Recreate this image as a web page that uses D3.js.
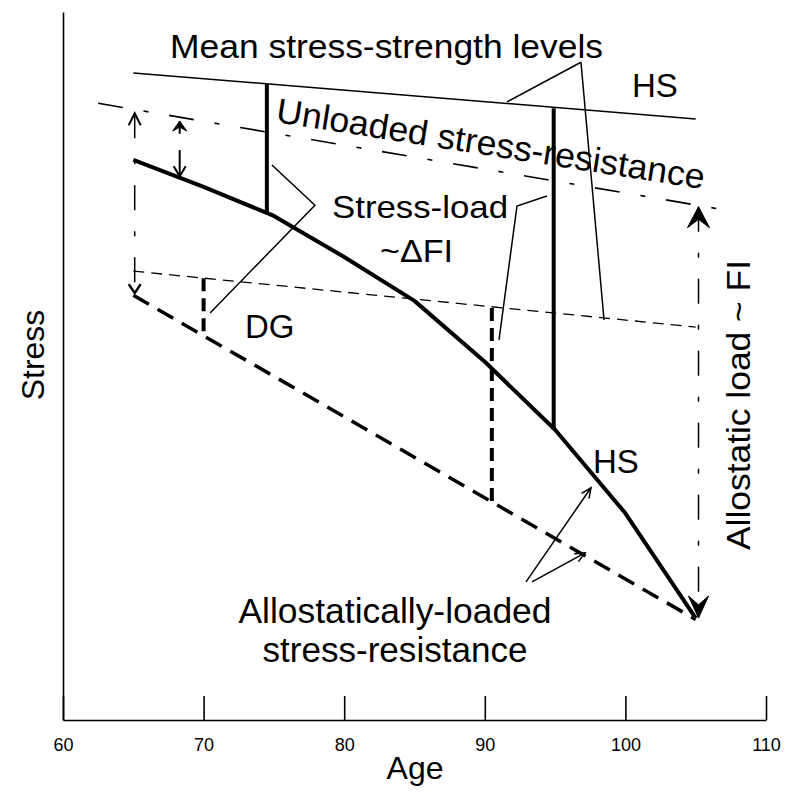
<!DOCTYPE html>
<html>
<head>
<meta charset="utf-8">
<script src="https://cdn.jsdelivr.net/npm/d3@7"></script>
<style>
  html, body { margin: 0; padding: 0; background: #fff; }
  svg { display: block; font-family: "Liberation Sans", Arial, sans-serif; }
</style>
</head>
<body>
<svg id="chart" width="800" height="794"></svg>
<script>
// ---------------- data ----------------
const xTicks = [60, 70, 80, 90, 100, 110];

// healthy-state (actual) stress-resistance trajectory
const curveAges   = [65, 70, 75, 80, 85, 90, 95, 100, 105];
const curveStress = [79.1, 75.3, 71.2, 65.4, 59.2, 50.6, 41.0, 29.2, 14.4];

// mean stress-strength levels (upper, HS)
const meanTopAges   = [65, 105];
const meanTopStress = [91.4, 84.9];

// mean stress-strength levels (lower, DG)
const meanLowAges   = [65, 105];
const meanLowStress = [63.4, 55.5];

// unloaded stress-resistance
const unloadedAges   = [62.5, 107.8];
const unloadedStress = [87.1, 71.8];

// allostatically-loaded stress-resistance
const loadedAges   = [65, 105];
const loadedStress = [60.0, 14.2];

// stress-load bars (HS, solid)
const hsBarAges   = [74.5, 94.9];
const hsBarTop    = [89.8, 86.4];
const hsBarBottom = [71.5, 41.0];

// stress-load bars (DG, dashed)
const dgBarAges   = [70, 90.5];
const dgBarTop    = [62.4, 58.2];
const dgBarBottom = [54.4, 30.6];

// allostatic load arrow (age, from, to)
const alArrowAge = 105.2;
const alArrowStress = [72.5, 14.4];
// left double arrow
const leftArrowAge = 65.1;
const leftArrowStress = [85.7, 60.3];
// small arrows
const smallArrowAge = 68.3;
const smallUpStress = [82.8, 84.6];
const smallDownStress = [80.5, 76.8];

// leader lines [age, stress] polylines
const meanLeaderA = [[96.84, 92.9], [91.58, 87.3]];
const meanLeaderB = [[96.84, 92.9], [98.48, 56.5]];
const loadLeaderA = [[74.86, 78.4], [77.92, 72.7], [70.46, 57.5]];
const loadLeaderB = [[94.42, 74.0], [92.29, 72.6], [91.01, 53.7]];
const alloLeaderA = [[92.93, 19.5], [97.55, 32.8]];
const alloLeaderB = [[93.36, 19.5], [97.13, 23.6]];

// ---------------- drawing ----------------
const svg = d3.select("#chart");
const x = d3.scaleLinear().domain([60, 110]).range([63, 766]);
const y = d3.scaleLinear().domain([0, 100]).range([720, 12]);

const line = d3.line().x(d => x(d[0])).y(d => y(d[1])).curve(d3.curveLinear);
const zip = (a, b) => a.map((v, i) => [v, b[i]]);

// axes
const xAxis = d3.axisBottom(x).tickValues(xTicks).tickSizeInner(-24).tickSizeOuter(0).tickPadding(18);
const gx = svg.append("g").attr("transform", "translate(0,720)").call(xAxis);
gx.selectAll("path, line").attr("stroke", "#000").attr("stroke-width", 1.6);
gx.selectAll("text").attr("font-size", 18).attr("fill", "#000")
  .attr("font-family", "Liberation Sans, Arial, sans-serif");

const yAxis = d3.axisLeft(y).tickValues([]).tickSizeOuter(0);
const gy = svg.append("g").attr("transform", "translate(63,0)").call(yAxis);
gy.selectAll("path").attr("stroke", "#000").attr("stroke-width", 1.6);

// axis titles
svg.append("text").attr("x", 415).attr("y", 779).attr("text-anchor", "middle")
  .attr("font-size", 32).text("Age");
svg.append("text").attr("transform", "translate(44,355) rotate(-90)")
  .attr("text-anchor", "middle").attr("font-size", 32).text("Stress");

const g = svg.append("g").attr("fill", "none").attr("stroke", "#000");

// upper mean line
g.append("path").attr("d", line(zip(meanTopAges, meanTopStress))).attr("stroke-width", 1.5);
// lower mean line (thin dashed)
g.append("path").attr("d", line(zip(meanLowAges, meanLowStress)))
  .attr("stroke-width", 1.3).attr("stroke-dasharray", "11,7");
// unloaded stress-resistance (dash-dot)
g.append("path").attr("d", line(zip(unloadedAges, unloadedStress)))
  .attr("stroke-width", 1.6).attr("stroke-dasharray", "25,21,5,21");
// loaded stress-resistance (thick dashed)
g.append("path").attr("d", line(zip(loadedAges, loadedStress)))
  .attr("stroke-width", 3.5).attr("stroke-dasharray", "18,10");
// main trajectory
g.append("path").attr("d", line(zip(curveAges, curveStress)))
  .attr("stroke-width", 4).attr("stroke-linejoin", "round");

// stress-load bars
hsBarAges.forEach((a, i) => {
  g.append("path").attr("d", line([[a, hsBarTop[i]], [a, hsBarBottom[i]]])).attr("stroke-width", 4);
});
dgBarAges.forEach((a, i) => {
  g.append("path").attr("d", line([[a, dgBarTop[i]], [a, dgBarBottom[i]]]))
    .attr("stroke-width", 4).attr("stroke-dasharray", "13,7");
});

// arrowhead helper
function head(tail, tip, o) {
  const tx = x(tip[0]), ty = y(tip[1]);
  const dx = tx - x(tail[0]), dy = ty - y(tail[1]);
  const L = Math.hypot(dx, dy) || 1;
  const ux = dx / L, uy = dy / L, px = -uy, py = ux;
  const b1 = [tx - o.len * ux + o.half * px, ty - o.len * uy + o.half * py];
  const b2 = [tx - o.len * ux - o.half * px, ty - o.len * uy - o.half * py];
  if (o.filled) {
    const n = [tx - o.len * o.notch * ux, ty - o.len * o.notch * uy];
    svg.append("path").attr("d", `M${tx},${ty}L${b1}L${n}L${b2}Z`)
      .attr("fill", "#000").attr("stroke", "#000").attr("stroke-width", 1).attr("stroke-linejoin", "miter");
  } else {
    svg.append("path").attr("d", `M${b1}L${tx},${ty}L${b2}`)
      .attr("fill", "none").attr("stroke", "#000").attr("stroke-width", o.w || 1.5);
  }
}

// allostatic load double arrow
const alTop = [alArrowAge, alArrowStress[0]], alBot = [alArrowAge, alArrowStress[1]];
g.append("path").attr("d", line([alTop, alBot])).attr("stroke-width", 1.5).attr("stroke-dasharray", "25,21,5,21");
head(alBot, alTop, {len: 21, half: 11, filled: true, notch: 0.6});
head(alTop, alBot, {len: 22, half: 10, filled: true, notch: 0.6});

// left double arrow
const lTop = [leftArrowAge, leftArrowStress[0]], lBot = [leftArrowAge, leftArrowStress[1]];
g.append("path").attr("d", line([lTop, lBot])).attr("stroke-width", 1.5).attr("stroke-dasharray", "25,21,5,21");
head(lBot, lTop, {len: 12, half: 6, w: 2});
head(lTop, lBot, {len: 9, half: 6, w: 2.5});

// small arrows
g.append("path").attr("d", line([[smallArrowAge, smallUpStress[0]], [smallArrowAge, smallUpStress[1]]])).attr("stroke-width", 2);
head([smallArrowAge, smallUpStress[0]], [smallArrowAge, smallUpStress[1]], {len: 10, half: 7, filled: true, notch: 0.6});
g.append("path").attr("d", line([[smallArrowAge, smallDownStress[0]], [smallArrowAge, smallDownStress[1]]])).attr("stroke-width", 2);
head([smallArrowAge, smallDownStress[0]], [smallArrowAge, smallDownStress[1]], {len: 10, half: 6, w: 2});

// leader lines
[meanLeaderA, meanLeaderB, loadLeaderA, loadLeaderB, alloLeaderA, alloLeaderB].forEach(p => {
  g.append("path").attr("d", line(p)).attr("stroke-width", 1.5);
});
head(alloLeaderA[0], alloLeaderA[1], {len: 10, half: 4.5, w: 1.5});
head(alloLeaderB[0], alloLeaderB[1], {len: 10, half: 4.5, w: 1.5});

// annotation text
const T = svg.append("g").attr("fill", "#000");
T.append("text").attr("x", 170).attr("y", 58).attr("font-size", 33)
  .attr("textLength", 433).attr("lengthAdjust", "spacingAndGlyphs").text("Mean stress-strength levels");
T.append("text").attr("x", 632).attr("y", 97).attr("font-size", 33).text("HS");
T.append("text").attr("transform", "translate(275,122) rotate(8.9)").attr("font-size", 35)
  .attr("textLength", 433).attr("lengthAdjust", "spacingAndGlyphs").text("Unloaded stress-resistance");
T.append("text").attr("x", 332).attr("y", 218).attr("font-size", 32)
  .attr("textLength", 176).attr("lengthAdjust", "spacingAndGlyphs").text("Stress-load");
T.append("text").attr("x", 380).attr("y", 262).attr("font-size", 32)
  .attr("textLength", 73).attr("lengthAdjust", "spacingAndGlyphs").text("~\u0394FI");
T.append("text").attr("x", 245).attr("y", 338).attr("font-size", 33).text("DG");
T.append("text").attr("x", 593).attr("y", 473).attr("font-size", 33).text("HS");
T.append("text").attr("x", 395).attr("y", 623).attr("font-size", 35).attr("text-anchor", "middle")
  .attr("textLength", 313).attr("lengthAdjust", "spacingAndGlyphs").text("Allostatically-loaded");
T.append("text").attr("x", 395).attr("y", 662).attr("font-size", 35).attr("text-anchor", "middle")
  .attr("textLength", 265).attr("lengthAdjust", "spacingAndGlyphs").text("stress-resistance");
T.append("text").attr("transform", "translate(750,405) rotate(-90)").attr("font-size", 33)
  .attr("text-anchor", "middle").attr("textLength", 290).attr("lengthAdjust", "spacingAndGlyphs")
  .text("Allostatic load ~ FI");
</script>
</body>
</html>
